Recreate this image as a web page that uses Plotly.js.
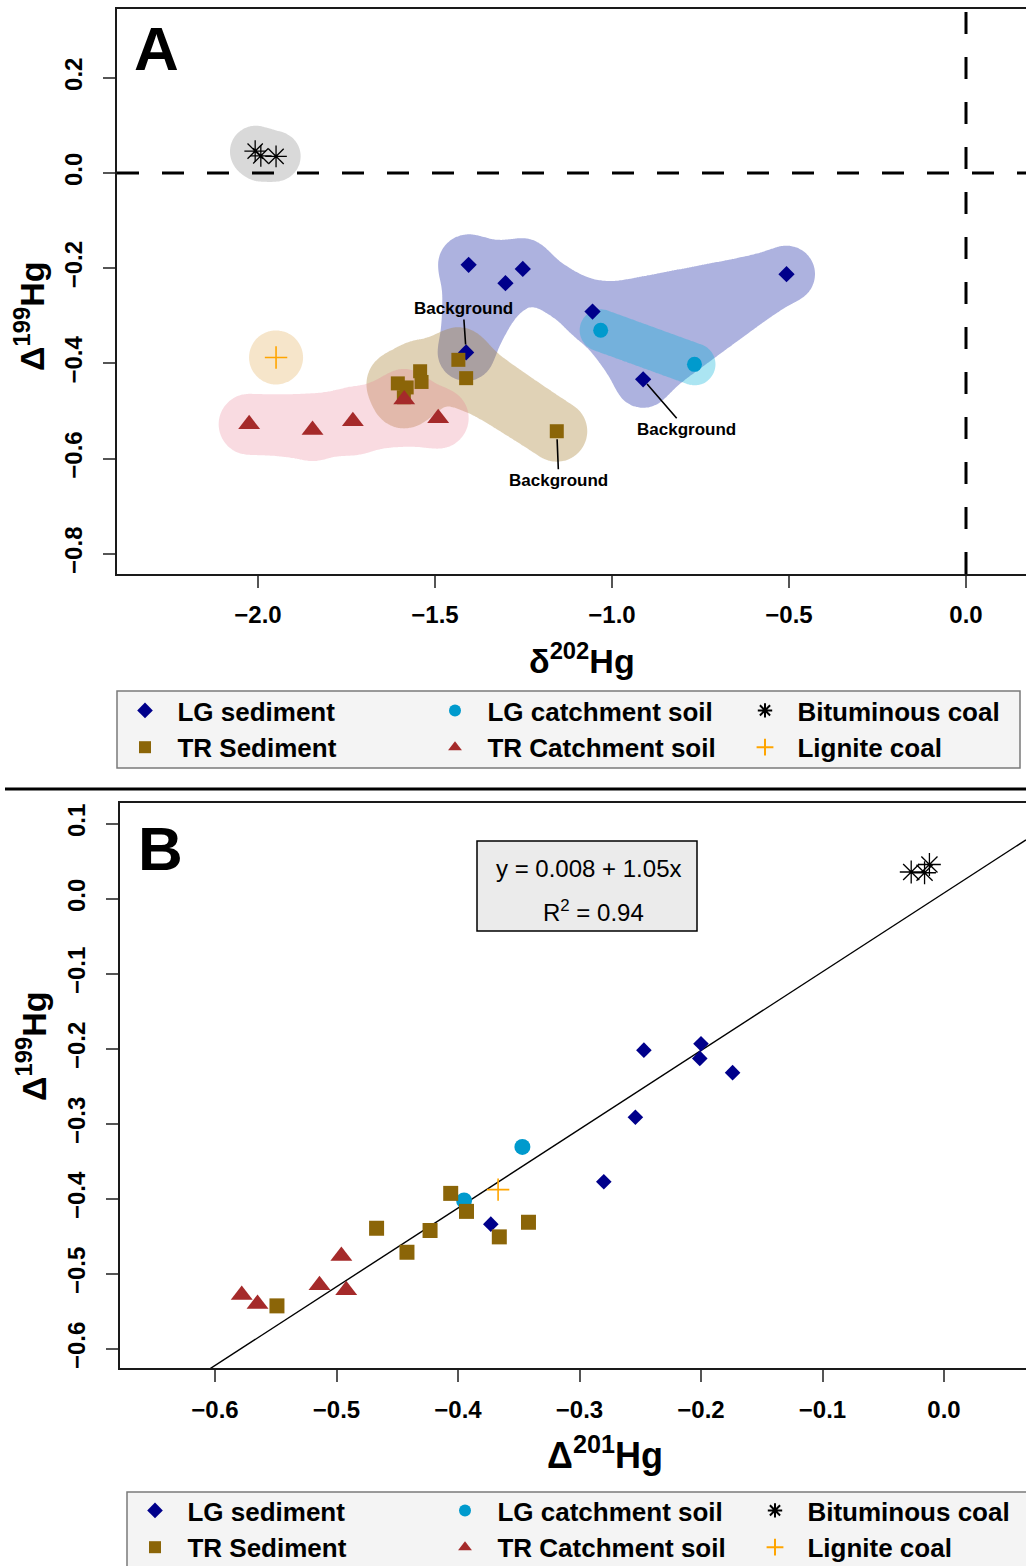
<!DOCTYPE html>
<html>
<head>
<meta charset="utf-8">
<script src="https://cdn.plot.ly/plotly-3.0.1.min.js"></script>
<style>
html,body{margin:0;padding:0;background:#fff;}
#chart{width:1026px;height:1566px;}
</style>
</head>
<body>
<div id="chart"></div>
<script>
// ===================== DATA =====================
const groupNames = ['LG sediment', 'LG catchment soil', 'Bituminous coal',
                    'TR Sediment', 'TR Catchment soil', 'Lignite coal'];

// delta202Hg, Delta199Hg, Delta201Hg per sample
const lgSedD202 = [-1.405, -1.252, -0.507, -1.301, -1.055, -1.412, -0.912];
const lgSedD199 = [-0.193, -0.2015, -0.2125, -0.2315, -0.291, -0.377, -0.4335];
const lgSedD201 = [-0.200, -0.247, -0.201, -0.174, -0.254, -0.280, -0.373];

const lgSoilD202 = [-1.032, -0.767];
const lgSoilD199 = [-0.3305, -0.402];
const lgSoilD201 = [-0.347, -0.395];

const bitD202 = [-2.008, -1.992, -1.949];
const bitD199 = [0.046, 0.036, 0.035];
const bitD201 = [-0.012, -0.027, -0.016];

const trSedD202 = [-1.434, -1.542, -1.412, -1.538, -1.605, -1.580, -1.588, -1.156];
const trSedD199 = [-0.3925, -0.4165, -0.431, -0.439, -0.442, -0.4505, -0.471, -0.5425];
const trSedD201 = [-0.406, -0.393, -0.342, -0.467, -0.423, -0.366, -0.442, -0.549];

const trSoilD202 = [-2.025, -1.846, -1.732, -1.587, -1.491];
const trSoilD199 = [-0.528, -0.540, -0.5215, -0.476, -0.515];
const trSoilD201 = [-0.578, -0.565, -0.492, -0.496, -0.514];

const ligD202 = [-1.949];
const ligD199 = [-0.3875];
const ligD201 = [-0.367];

// regression shown in panel B
const fitIntercept = 0.008;
const fitSlope = 1.05;
const fitText = 'y = 0.008 + 1.05x';
const r2Text = 'R<sup>2</sup> = 0.94';

// tick values
const xTicksA = [-2.0, -1.5, -1.0, -0.5, 0.0];
const yTicksA = [-0.8, -0.6, -0.4, -0.2, 0.0, 0.2];
const xTicksB = [-0.6, -0.5, -0.4, -0.3, -0.2, -0.1, 0.0];
const yTicksB = [-0.6, -0.5, -0.4, -0.3, -0.2, -0.1, 0.0, 0.1];

const backgroundLabel = 'Background';

// ===================== LAYOUT GEOMETRY (pixels) =====================
const W = 1026, H = 1566;
const FONT = 'Liberation Sans, Arial, Helvetica, sans-serif';

const pA = {left:117, right:1026, top:9, bottom:574, xZero:966, xPer:354, yZero:173, yPer:476};
const pB = {left:120, right:1026, top:803, bottom:1368, xZero:944, xPer:1215, yZero:899, yPer:750};

const fx = px => px / W;
const fy = py => 1 - py / H;
const rangeX = p => [(p.left - p.xZero) / p.xPer, (p.right - p.xZero) / p.xPer];
const rangeY = p => [(p.yZero - p.bottom) / p.yPer, (p.yZero - p.top) / p.yPer];
const domX = p => [p.left / W, p.right / W];
const domY = p => [1 - p.bottom / H, 1 - p.top / H];

// ===================== STYLES =====================
const styles = [
  {symbol:'diamond', color:'#00008B', sizeA:12.5, sizeB:12, open:false,
   blob:'rgba(60,72,178,0.42)', r:25},
  {symbol:'circle', color:'#009ACD', sizeA:15, sizeB:16, open:false,
   blob:'rgba(0,175,215,0.33)', r:21},
  {symbol:'asterisk-open', color:'#000000', sizeA:18, sizeB:19, open:true, lw:1.3,
   blob:'rgba(140,140,140,0.33)', r:21},
  {symbol:'square', color:'#8B6508', sizeA:14, sizeB:15, open:false,
   blob:'rgba(165,125,45,0.35)', r:27},
  {symbol:'triangle-up', color:'#A52A2A', sizeA:19, sizeB:19, open:false,
   blob:'rgba(230,115,140,0.26)', r:27},
  {symbol:'cross-thin-open', color:'#FFA500', sizeA:16, sizeB:16, open:true, lw:1.6,
   blob:'rgba(225,170,80,0.30)', r:27}
];

const groupsD202 = [lgSedD202, lgSoilD202, bitD202, trSedD202, trSoilD202, ligD202];
const groupsD199 = [lgSedD199, lgSoilD199, bitD199, trSedD199, trSoilD199, ligD199];
const groupsD201 = [lgSedD201, lgSoilD201, bitD201, trSedD201, trSoilD201, ligD201];

// ===================== BLOB (smooth hull) computation =====================
function buildEdges(P) {
  const n = P.length;
  const d = (i, j) => Math.hypot(P[i][0] - P[j][0], P[i][1] - P[j][1]);
  if (n === 1) return [[0, 0]];
  const inT = new Array(n).fill(false); inT[0] = true;
  const deg = new Array(n).fill(0);
  const E = [];
  for (let k = 1; k < n; k++) {
    let bi = -1, bj = -1, bd = Infinity;
    for (let i = 0; i < n; i++) if (inT[i]) for (let j = 0; j < n; j++) if (!inT[j]) {
      const dd = d(i, j); if (dd < bd) { bd = dd; bi = i; bj = j; }
    }
    E.push([bi, bj]); inT[bj] = true; deg[bi]++; deg[bj]++;
  }
  if (n > 2) {
    for (let i = 0; i < n; i++) if (deg[i] === 1) {
      const o = [...Array(n).keys()].filter(j => j !== i).sort((a, b) => d(i, a) - d(i, b));
      const j = o[1];
      if (!E.some(e => (e[0] === i && e[1] === j) || (e[0] === j && e[1] === i))) E.push([i, j]);
    }
  }
  return E;
}
function graphTriangles(E, n) {
  const has = (a, b) => E.some(e => (e[0] === a && e[1] === b) || (e[0] === b && e[1] === a));
  const T = [];
  for (let a = 0; a < n; a++) for (let b = a + 1; b < n; b++) for (let c = b + 1; c < n; c++)
    if (has(a, b) && has(b, c) && has(a, c)) T.push([a, b, c]);
  return T;
}
function inTri(px, py, A, B, C) {
  const s = (p1, p2) => (px - p2[0]) * (p1[1] - p2[1]) - (p1[0] - p2[0]) * (py - p2[1]);
  const d1 = s(A, B), d2 = s(B, C), d3 = s(C, A);
  const neg = d1 < 0 || d2 < 0 || d3 < 0, pos = d1 > 0 || d2 > 0 || d3 > 0;
  return !(neg && pos);
}
function segDist(px, py, a, b) {
  const vx = b[0] - a[0], vy = b[1] - a[1];
  const L = vx * vx + vy * vy;
  let t = L > 0 ? ((px - a[0]) * vx + (py - a[1]) * vy) / L : 0;
  t = Math.max(0, Math.min(1, t));
  return Math.hypot(px - (a[0] + t * vx), py - (a[1] + t * vy));
}
function blobTrace(xs, ys, st, p) {
  const P = xs.map((x, i) => [p.xZero + x * p.xPer, p.yZero - ys[i] * p.yPer]);
  const E = buildEdges(P);
  const T = graphTriangles(E, P.length);
  const r = st.r, k = 5, pad = r + 22, step = 2.5;
  const minX = Math.min(...P.map(q => q[0])) - pad, maxX = Math.max(...P.map(q => q[0])) + pad;
  const minY = Math.min(...P.map(q => q[1])) - pad, maxY = Math.max(...P.map(q => q[1])) + pad;
  const gxp = [], gyp = [];
  for (let x = minX; x <= maxX; x += step) gxp.push(x);
  for (let y = minY; y <= maxY; y += step) gyp.push(y);
  const z = gyp.map(py => gxp.map(px => {
    if (T.some(t => inTri(px, py, P[t[0]], P[t[1]], P[t[2]]))) return 0;
    const ds = E.map(e => segDist(px, py, P[e[0]], P[e[1]]));
    const dm = Math.min(...ds);
    let s = 0; ds.forEach(v => { s += Math.exp(-(v - dm) / k); });
    return dm - k * Math.log(s);
  }));
  return {
    type: 'contour', xaxis: 'x', yaxis: 'y',
    x: gxp.map(px => (px - p.xZero) / p.xPer),
    y: gyp.map(py => (p.yZero - py) / p.yPer),
    z: z,
    // the shaded part of a constraint contour is the region that fails the test,
    // so ">" shades everything within r pixels of the group's points
    contours: {type: 'constraint', operation: '>', value: r},
    fillcolor: st.blob,
    line: {width: 0, color: 'rgba(0,0,0,0)', smoothing: 1.3},
    showscale: false, showlegend: false, hoverinfo: 'skip'
  };
}

// ===================== TRACES =====================
const traces = [];
groupNames.forEach((nm, g) => traces.push(blobTrace(groupsD202[g], groupsD199[g], styles[g], pA)));

function markerOf(st, size) {
  return st.open
    ? {symbol: st.symbol, size: size, color: st.color, line: {color: st.color, width: st.lw}}
    : {symbol: st.symbol, size: size, color: st.color, line: {width: 0}};
}
const legendName = nm => '\u00a0\u2009' + nm;

groupNames.forEach((nm, g) => {
  traces.push({
    type: 'scatter', mode: 'markers', xaxis: 'x', yaxis: 'y',
    x: groupsD202[g], y: groupsD199[g], name: legendName(nm),
    marker: markerOf(styles[g], styles[g].sizeA), legend: 'legend', hoverinfo: 'x+y'
  });
});

const xrB = rangeX(pB);
traces.push({
  type: 'scatter', mode: 'lines', xaxis: 'x2', yaxis: 'y2',
  x: xrB, y: xrB.map(v => fitIntercept + fitSlope * v),
  line: {color: '#000', width: 1.4}, showlegend: false, hoverinfo: 'skip'
});
groupNames.forEach((nm, g) => {
  traces.push({
    type: 'scatter', mode: 'markers', xaxis: 'x2', yaxis: 'y2',
    x: groupsD201[g], y: groupsD199[g], name: legendName(nm),
    marker: markerOf(styles[g], styles[g].sizeB), legend: 'legend2', hoverinfo: 'x+y'
  });
});

// ===================== AXES =====================
function axisCfg(p, isX, tickvals, anchor, mirror, standoff) {
  return {
    domain: isX ? domX(p) : domY(p),
    range: isX ? rangeX(p) : rangeY(p),
    anchor: anchor,
    showgrid: false, zeroline: false,
    showline: true, linecolor: '#1a1a1a', linewidth: 1.5, mirror: mirror,
    ticks: 'outside', ticklen: 12, tickwidth: 1.5, tickcolor: '#555',
    tickmode: 'array', tickvals: tickvals, tickformat: '.1f',
    tickangle: isX ? 0 : -90,
    tickfont: {family: FONT, size: 24, color: '#000', weight: 'bold'},
    ticklabelstandoff: standoff,
    fixedrange: true
  };
}

// ===================== ANNOTATIONS =====================
const bgFont = {family: FONT, size: 17, color: '#000', weight: 'bold'};
const titleFont = {family: FONT, size: 34, color: '#000', weight: 'bold'};
const annotations = [
  {xref:'paper', yref:'paper', x: fx(156), y: fy(48), text:'A', showarrow:false,
   xanchor:'center', yanchor:'middle', font:{family:FONT, size:62, color:'#000', weight:'bold'}},
  {xref:'paper', yref:'paper', x: fx(160), y: fy(848), text:'B', showarrow:false,
   xanchor:'center', yanchor:'middle', font:{family:FONT, size:62, color:'#000', weight:'bold'}},
  {xref:'paper', yref:'paper', x: fx(30), y: fy(317), text:'Δ<sup>199</sup>Hg', showarrow:false,
   textangle:-90, xanchor:'center', yanchor:'middle', font: titleFont},
  {xref:'paper', yref:'paper', x: fx(582), y: fy(658), text:'δ<sup>202</sup>Hg', showarrow:false,
   xanchor:'center', yanchor:'middle', font: titleFont},
  {xref:'paper', yref:'paper', x: fx(31), y: fy(1047), text:'Δ<sup>199</sup>Hg', showarrow:false,
   textangle:-90, xanchor:'center', yanchor:'middle', font: titleFont},
  {xref:'paper', yref:'paper', x: fx(605), y: fy(1453), text:'Δ<sup>201</sup>Hg', showarrow:false,
   xanchor:'center', yanchor:'middle', font: {family: FONT, size: 36, color: '#000', weight: 'bold'}},
  {xref:'paper', yref:'paper', x: fx(588), y: fy(868), text: fitText, showarrow:false,
   xanchor:'center', yanchor:'middle', font:{family:FONT, size:24, color:'#000'}},
  {xref:'paper', yref:'paper', x: fx(593), y: fy(911), text: r2Text, showarrow:false,
   xanchor:'center', yanchor:'middle', font:{family:FONT, size:24, color:'#000'}},
  // "Background" call-outs
  {xref:'x', yref:'y', x: lgSedD202[5], y: lgSedD199[5], ax:-3, ay:-44, text: backgroundLabel,
   showarrow:true, arrowhead:0, arrowwidth:1.6, arrowcolor:'#000', standoff:8, font: bgFont},
  {xref:'x', yref:'y', x: lgSedD202[6], y: lgSedD199[6], ax:43, ay:50, text: backgroundLabel,
   showarrow:true, arrowhead:0, arrowwidth:1.6, arrowcolor:'#000', standoff:6, font: bgFont},
  {xref:'x', yref:'y', x: trSedD202[7], y: trSedD199[7], ax:2, ay:49, text: backgroundLabel,
   showarrow:true, arrowhead:0, arrowwidth:1.6, arrowcolor:'#000', standoff:8, font: bgFont}
];

// ===================== SHAPES =====================
const shapes = [
  {type:'line', xref:'x domain', yref:'y', x0:0, x1:1, y0:0, y1:0, layer:'above',
   line:{color:'#000', width:3, dash:'22px,23px'}},
  {type:'line', xref:'x', yref:'y domain', x0:0, x1:0, y0:0, y1:1, layer:'above',
   line:{color:'#000', width:3, dash:'22px,23px'}},
  {type:'line', xref:'paper', yref:'paper', x0: fx(5), x1: 1, y0: fy(789), y1: fy(789),
   line:{color:'#000', width:3}},
  {type:'rect', xref:'paper', yref:'paper', x0: fx(477), x1: fx(697), y0: fy(931), y1: fy(841),
   fillcolor:'#ebebeb', line:{color:'#000', width:1.5}, layer:'above'},
  // legend frames
  {type:'rect', xref:'paper', yref:'paper', x0: fx(117), x1: fx(1020), y0: fy(768), y1: fy(691),
   fillcolor:'#f4f4f4', line:{color:'#7a7a7a', width:1.5}, layer:'above'},
  {type:'rect', xref:'paper', yref:'paper', x0: fx(127), x1: fx(1032), y0: fy(1572), y1: fy(1492),
   fillcolor:'#f4f4f4', line:{color:'#7a7a7a', width:1.5}, layer:'above'}
];

// ===================== LEGENDS =====================
function legendCfg(leftPx, topPx) {
  return {
    x: fx(leftPx), y: fy(topPx), xanchor:'left', yanchor:'top',
    orientation:'h', bgcolor:'rgba(0,0,0,0)', borderwidth:0,
    font:{family:FONT, size:26, color:'#000', weight:'bold'},
    entrywidth: 257, entrywidthmode:'pixels', itemsizing:'constant',
    traceorder:'normal', indentation: 8, itemclick:false, itemdoubleclick:false
  };
}

const layout = {
  width: W, height: H,
  margin: {l:0, r:0, t:0, b:0, autoexpand:false},
  paper_bgcolor:'#fff', plot_bgcolor:'#fff',
  showlegend: true,
  xaxis: axisCfg(pA, true, xTicksA, 'y', true, 6),
  yaxis: axisCfg(pA, false, yTicksA, 'x', false, 12),
  xaxis2: axisCfg(pB, true, xTicksB, 'y2', true, 7),
  yaxis2: axisCfg(pB, false, yTicksB, 'x2', false, 12),
  legend: legendCfg(117, 687),
  legend2: legendCfg(127, 1487),
  annotations: annotations,
  shapes: shapes
};

Plotly.newPlot('chart', traces, layout, {displayModeBar:false, responsive:false});
</script>
</body>
</html>
